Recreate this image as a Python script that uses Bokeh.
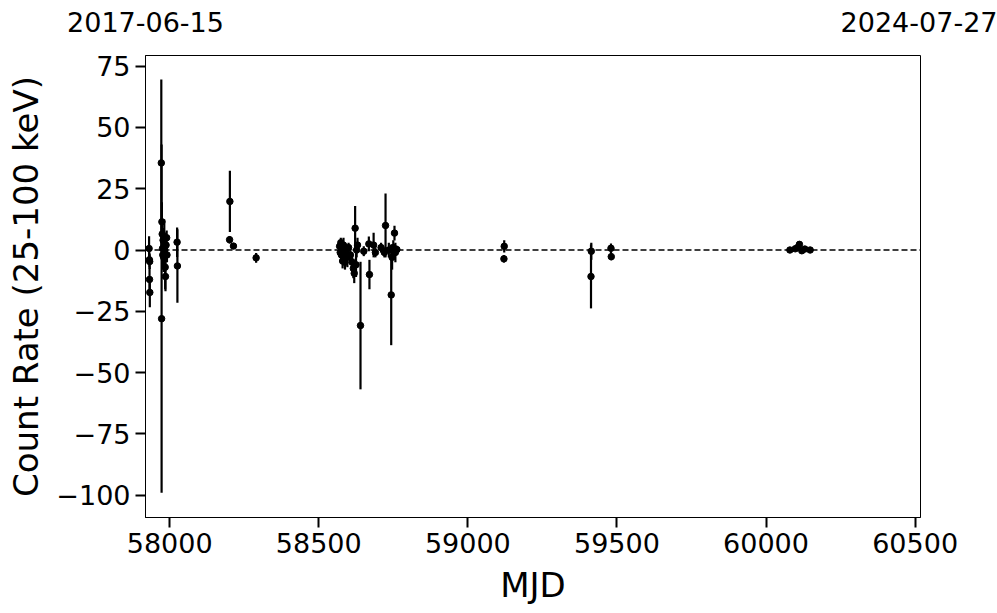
from bokeh.plotting import figure
from bokeh.models import Range1d, FixedTicker, Span, LinearAxis
from bokeh.embed import file_html
from bokeh.resources import INLINE

# ---- data (MJD, count rate, 1-sigma error) ----
mjd = [
    57931, 57932, 57933, 57932.5, 57933.5,
    57972, 57973, 57974, 57975, 57976, 57977, 57978, 57980, 57982, 57984, 57985, 57986, 57988, 57990, 57991,
    58025, 58026,
    58202, 58201, 58214, 58290,
    58570, 58572, 58574, 58576, 58578, 58580, 58583, 58585, 58588, 58592, 58596, 58600, 58606, 58612,
    58616, 58619, 58622, 58625, 58627, 58630, 58640, 58651, 58668, 58670, 58684, 58690, 58709, 58720,
    58724, 58735, 58743, 58746, 58750, 58754, 58757, 58762,
    59122, 59121, 59414, 59413, 59480, 59481,
    60080, 60098, 60106, 60112, 60120, 60130, 60148,
]
rate = [
    0.6, -4.0, -4.7, -12.0, -17.3,
    35.5, -28.0, 11.5, 6.5, 0.6, -2.0, 4.0, -3.0, 5.4, -1.8, -7.0, -10.8, 2.0, 5.0, -2.0,
    3.2, -6.5,
    19.8, 4.2, 1.6, -3.2,
    1.5, -1.0, 3.0, -2.0, 0.5, -4.5, 2.0, -1.5, -5.0, 0.0, -3.0, 1.0, -2.0, -5.0,
    -7.5, -9.5, 8.9, -6.0, 0.0, 2.0, -30.8, -0.5, 2.5, -10.0, 2.0, -1.0, 1.0, -1.0,
    10.0, 0.0, -18.3, -3.0, 1.0, 6.9, -1.0, 0.2,
    1.5, -3.6, -0.5, -10.8, 0.7, -2.7,
    0.0, 0.5, 1.0, 2.3, -0.3, 0.4, 0.0,
]
err = [
    5.0, 3.0, 3.0, 5.0, 6.0,
    34.0, 71.0, 8.0, 6.0, 4.0, 5.0, 5.0, 6.0, 7.0, 5.0, 9.0, 6.0, 4.0, 3.0, 3.0,
    6.0, 15.0,
    12.5, 1.5, 1.0, 2.0,
    2.0, 2.0, 2.0, 3.0, 2.0, 3.0, 3.0, 2.0, 3.0, 2.0, 4.0, 2.0, 3.0, 4.0,
    4.0, 4.0, 9.0, 5.0, 3.0, 3.0, 26.0, 2.0, 3.0, 6.0, 5.0, 2.0, 2.0, 2.0,
    13.0, 3.0, 20.5, 5.0, 3.0, 3.0, 4.0, 1.5,
    2.5, 1.5, 3.5, 13.0, 2.0, 1.5,
    0.8, 0.8, 1.0, 1.0, 0.8, 0.8, 0.6,
]

X_START, X_END = 57919, 60518          # 2017-06-15 .. 2024-07-27
DATE_LABELS = ["2017-06-15", "2024-07-27"]
Y_START, Y_END = -109.05, 79.3
X_TICKS = [58000, 58500, 59000, 59500, 60000, 60500]
Y_TICKS = [-100, -75, -50, -25, 0, 25, 50, 75]
Y_TICK_LABELS = ["\u2212100", "\u221275", "\u221250", "\u221225", "0", "25", "50", "75"]

FONT = "DejaVu Sans"

lower = [r - e for r, e in zip(rate, err)]
upper = [r + e for r, e in zip(rate, err)]

p = figure(
    frame_width=775, frame_height=462,
    min_border_left=145, min_border_top=55, min_border_right=77, min_border_bottom=92,
    x_range=Range1d(X_START, X_END), y_range=Range1d(Y_START, Y_END),
    output_backend="svg", toolbar_location=None,
    background_fill_color="white", border_fill_color="white",
)
p.grid.visible = False
p.outline_line_color = "black"
p.outline_line_width = 1

p.segment(x0=mjd, y0=lower, x1=mjd, y1=upper, line_color="black", line_width=2.2)
p.scatter(x=mjd, y=rate, size=6.5, color="black")

p.add_layout(Span(location=0, dimension="width", line_color="black",
                  line_dash="6 3", line_width=1.3))

for ax in (p.xaxis[0], p.yaxis[0]):
    ax.axis_line_color = "black"
    ax.axis_line_width = 1
    ax.major_tick_line_color = "black"
    ax.major_tick_line_width = 2
    ax.major_tick_out = 10
    ax.major_tick_in = 0
    ax.minor_tick_line_color = None
    ax.major_label_text_font = FONT
    ax.major_label_text_font_size = "27px"
    ax.major_label_text_color = "black"
    ax.axis_label_text_font = FONT
    ax.axis_label_text_font_size = "34px"
    ax.axis_label_text_font_style = "normal"
    ax.axis_label_text_color = "black"
    ax.major_label_standoff = 5

p.xaxis[0].ticker = FixedTicker(ticks=X_TICKS)
p.yaxis[0].ticker = FixedTicker(ticks=Y_TICKS)
p.yaxis[0].major_label_overrides = {t: s for t, s in zip(Y_TICKS, Y_TICK_LABELS)}
p.xaxis[0].axis_label = "MJD"
p.yaxis[0].axis_label = "Count Rate (25-100 keV)"
p.xaxis[0].axis_label_standoff = 9
p.yaxis[0].axis_label_standoff = 7

top = LinearAxis(ticker=FixedTicker(ticks=[X_START, X_END]),
                 major_label_overrides={X_START: DATE_LABELS[0], X_END: DATE_LABELS[1]})
top.axis_line_color = None
top.major_tick_line_color = None
top.minor_tick_line_color = None
top.major_tick_out = 0
top.major_tick_in = 0
top.major_label_standoff = 24
top.major_label_text_font = FONT
top.major_label_text_font_size = "27px"
top.major_label_text_color = "black"
p.add_layout(top, "above")

open("out.html", "w").write(file_html(p, INLINE))
